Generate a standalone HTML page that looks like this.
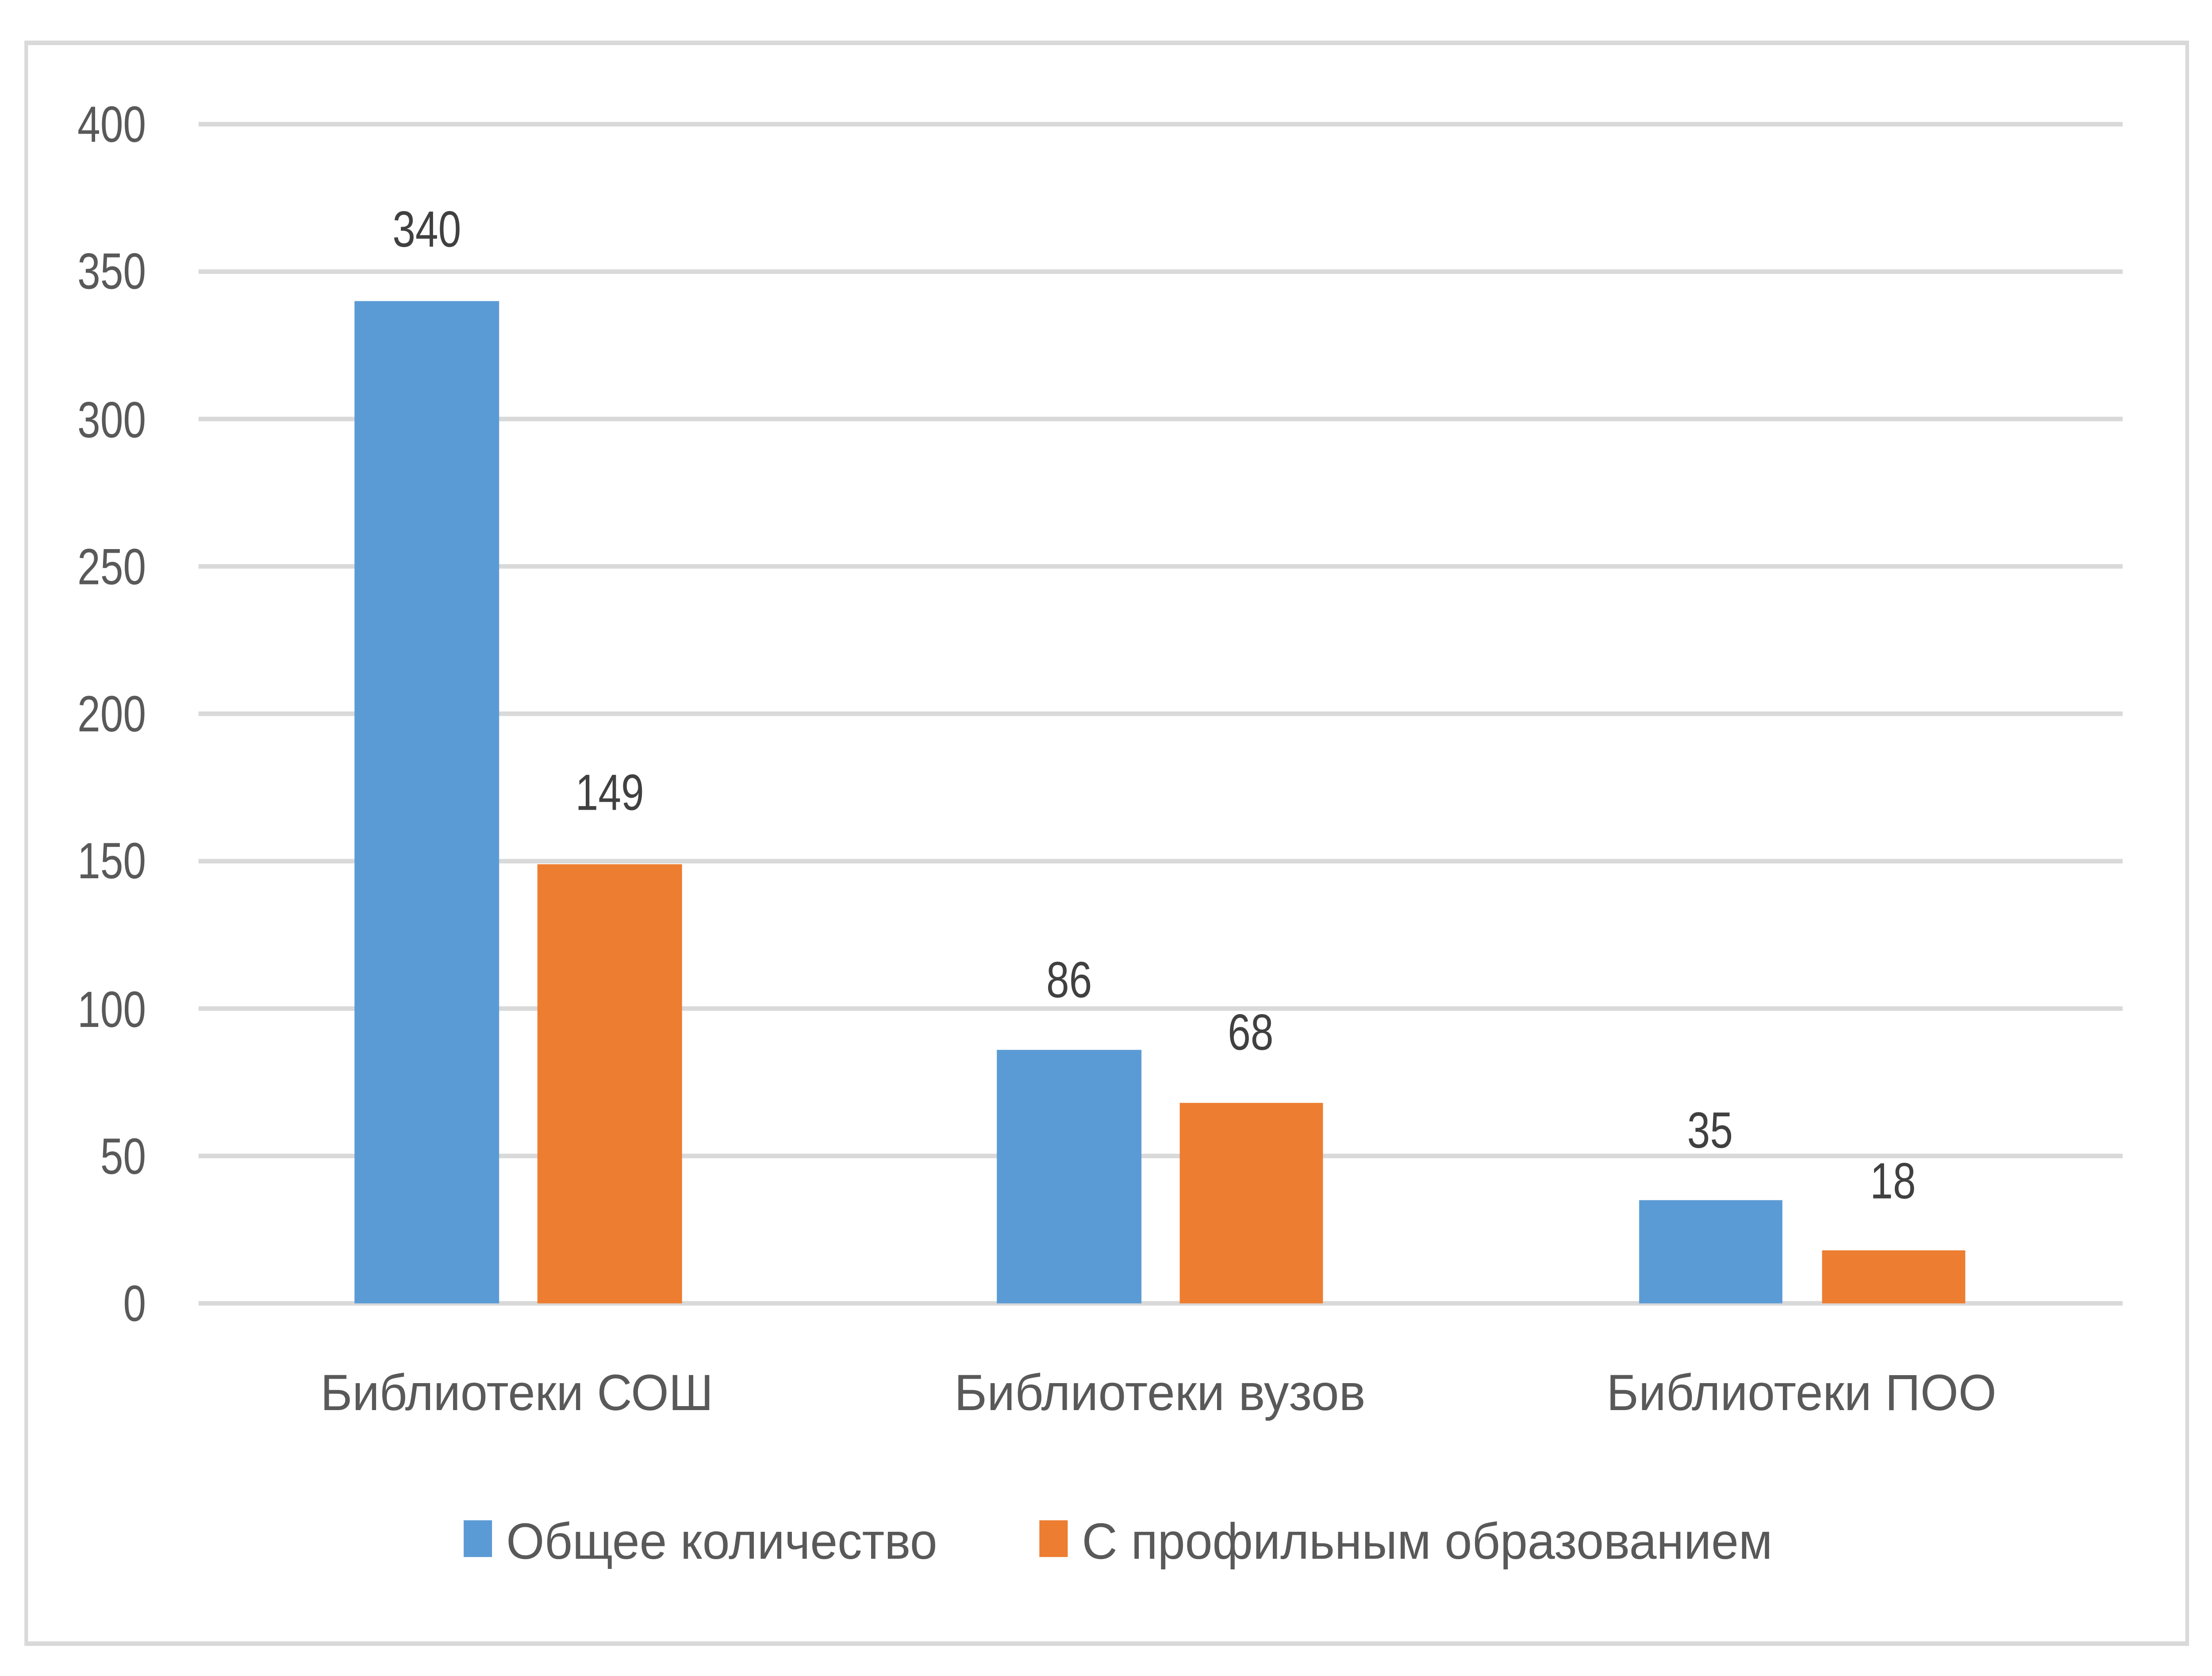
<!DOCTYPE html>
<html><head><meta charset="utf-8"><style>
html,body{margin:0;padding:0;background:#fff;overflow:hidden;width:100%;height:100%;}
svg{display:block;position:absolute;left:0;top:0;width:100vw;height:100vh;}
text{font-family:"Liberation Sans",sans-serif;fill:#595959;}
</style></head><body>
<svg viewBox="0 0 1560 958" preserveAspectRatio="none" xmlns="http://www.w3.org/2000/svg">
<rect x="0" y="0" width="1560" height="958" fill="#fff"/>
<rect x="18.5" y="24.5" width="1524" height="915" fill="none" stroke="#d9d9d9" stroke-width="2.6"/>
<g stroke="#d9d9d9" stroke-width="2.6">
<line x1="140" y1="71" x2="1497" y2="71"/>
<line x1="140" y1="155.25" x2="1497" y2="155.25"/>
<line x1="140" y1="239.5" x2="1497" y2="239.5"/>
<line x1="140" y1="323.75" x2="1497" y2="323.75"/>
<line x1="140" y1="408" x2="1497" y2="408"/>
<line x1="140" y1="492.25" x2="1497" y2="492.25"/>
<line x1="140" y1="576.5" x2="1497" y2="576.5"/>
<line x1="140" y1="660.75" x2="1497" y2="660.75"/>
<line x1="140" y1="745" x2="1497" y2="745"/>
</g>
<g font-size="29" text-anchor="end">
<text x="103" y="81">400</text>
<text x="103" y="165">350</text>
<text x="103" y="250">300</text>
<text x="103" y="334">250</text>
<text x="103" y="418">200</text>
<text x="103" y="502">150</text>
<text x="103" y="587">100</text>
<text x="103" y="671">50</text>
<text x="103" y="755">0</text>
</g>
<g fill="#5b9bd5">
<rect x="250" y="172.1" width="102" height="572.9"/>
<rect x="703" y="600.1" width="102" height="144.9"/>
<rect x="1156" y="686" width="101" height="59"/>
</g>
<g fill="#ed7d31">
<rect x="379" y="494" width="102" height="251"/>
<rect x="832" y="630.4" width="101" height="114.6"/>
<rect x="1285" y="714.7" width="101" height="30.3"/>
</g>
<g font-size="29" text-anchor="middle">
<text x="301" y="141" style="fill:#404040">340</text>
<text x="430" y="463" style="fill:#404040">149</text>
<text x="754" y="570" style="fill:#404040">86</text>
<text x="882" y="600" style="fill:#404040">68</text>
<text x="1206" y="656" style="fill:#404040">35</text>
<text x="1335" y="685" style="fill:#404040">18</text>
</g>
<g font-size="29">
<text x="226" y="806" textLength="277" lengthAdjust="spacingAndGlyphs">Библиотеки СОШ</text>
<text x="673" y="806" textLength="290" lengthAdjust="spacingAndGlyphs">Библиотеки вузов</text>
<text x="1133" y="806" textLength="275" lengthAdjust="spacingAndGlyphs">Библиотеки ПОО</text>
<text x="357" y="891" textLength="304" lengthAdjust="spacingAndGlyphs">Общее количество</text>
<text x="763" y="891" textLength="487" lengthAdjust="spacingAndGlyphs">С профильным образованием</text>
</g>
<rect x="327" y="869" width="20" height="21" fill="#5b9bd5"/>
<rect x="733" y="869" width="20" height="21" fill="#ed7d31"/>
</svg>
</body></html>
